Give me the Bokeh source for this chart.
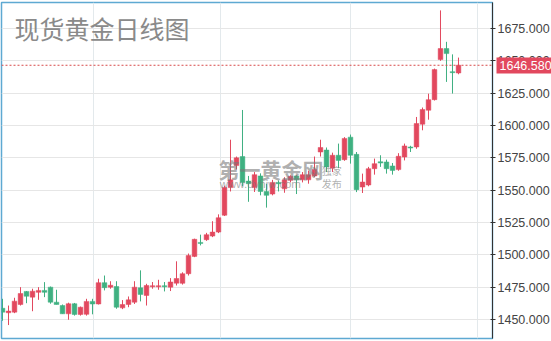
from bokeh.plotting import figure
from bokeh.models import (Range1d, FixedTicker, SingleIntervalTicker, PrintfTickFormatter, Span,
                          Label, ColumnDataSource, LinearAxis)
from bokeh.embed import file_html
from bokeh.resources import INLINE

opens = [1458.7, 1455.2, 1455.7, 1461.6, 1471.7, 1467.3, 1471.0, 1472.5, 1475.0, 1463.4,
         1460.8, 1454.4, 1462.2, 1453.9, 1454.0, 1464.0, 1462.0, 1478.5, 1475.0, 1475.5,
         1459.0, 1461.6, 1463.4, 1474.5, 1468.6, 1475.4, 1475.4, 1476.0, 1475.0, 1478.1,
         1478.0, 1485.4, 1498.8, 1509.6, 1511.7, 1514.5, 1517.6, 1530.6, 1552.0, 1569.0,
         1576.0, 1557.0, 1552.0, 1561.0, 1549.0, 1547.0, 1556.0, 1551.0, 1557.6, 1561.0,
         1558.0, 1558.0, 1561.0, 1579.5, 1581.0, 1567.0, 1577.0, 1573.6, 1591.0, 1577.7,
         1552.4, 1554.0, 1566.6, 1572.0, 1571.8, 1568.7, 1565.9, 1575.6, 1583.4, 1583.4,
         1601.0, 1611.8, 1620.0, 1651.0, 1659.5, 1641.5, 1640.6]
highs = [1466.0, 1460.8, 1466.8, 1475.0, 1472.0, 1473.8, 1475.0, 1478.9, 1475.5, 1473.0,
         1461.6, 1463.0, 1462.8, 1460.0, 1466.0, 1466.0, 1481.5, 1484.0, 1479.6, 1479.6,
         1465.0, 1467.8, 1479.6, 1488.0, 1477.6, 1479.0, 1480.7, 1479.0, 1482.0, 1495.0,
         1486.5, 1501.0, 1512.5, 1515.6, 1517.0, 1526.0, 1531.3, 1553.5, 1589.0, 1576.0,
         1612.0, 1561.0, 1564.0, 1563.0, 1555.0, 1558.0, 1557.5, 1560.0, 1561.5, 1561.5,
         1564.0, 1565.0, 1576.0, 1589.0, 1583.0, 1579.0, 1586.0, 1591.0, 1593.0, 1579.5,
         1562.8, 1568.0, 1574.4, 1577.0, 1573.6, 1571.0, 1578.6, 1586.0, 1584.3, 1606.6,
         1613.9, 1624.6, 1644.0, 1689.0, 1664.7, 1655.0, 1652.5]
lows = [1449.0, 1445.7, 1454.9, 1460.8, 1462.6, 1456.4, 1465.2, 1467.3, 1462.2, 1461.6,
        1454.4, 1449.8, 1453.0, 1453.0, 1453.0, 1454.0, 1461.6, 1472.5, 1473.8, 1458.3,
        1458.0, 1459.5, 1462.0, 1464.0, 1460.8, 1473.8, 1473.0, 1471.7, 1472.0, 1476.3,
        1477.0, 1484.0, 1498.2, 1507.3, 1510.8, 1513.7, 1516.8, 1530.0, 1549.0, 1566.0,
        1553.0, 1541.0, 1548.6, 1546.0, 1536.5, 1546.0, 1549.0, 1548.0, 1556.0, 1547.0,
        1556.0, 1555.0, 1560.0, 1576.0, 1564.0, 1564.0, 1567.0, 1572.7, 1570.5, 1548.5,
        1547.8, 1553.0, 1562.0, 1568.0, 1562.8, 1562.0, 1565.0, 1573.0, 1579.5, 1582.0,
        1596.3, 1604.5, 1619.3, 1650.0, 1633.7, 1624.7, 1639.6]
closes = [1455.7, 1456.5, 1464.2, 1470.1, 1468.0, 1471.9, 1472.5, 1471.0, 1463.4, 1461.6,
          1454.4, 1462.2, 1453.9, 1459.5, 1464.0, 1462.0, 1478.5, 1474.6, 1476.5, 1459.5,
          1461.6, 1465.2, 1475.0, 1469.4, 1476.3, 1476.0, 1476.0, 1475.4, 1479.0, 1481.7,
          1485.4, 1499.5, 1512.0, 1508.8, 1515.6, 1517.6, 1528.7, 1552.0, 1558.0, 1575.0,
          1556.0, 1555.0, 1562.0, 1549.0, 1546.0, 1556.0, 1555.0, 1558.0, 1560.7, 1558.0,
          1562.0, 1562.0, 1566.0, 1583.0, 1568.0, 1577.0, 1573.0, 1590.0, 1577.0, 1550.4,
          1556.3, 1566.6, 1570.5, 1571.0, 1566.6, 1565.3, 1576.2, 1584.2, 1582.6, 1601.5,
          1612.3, 1620.0, 1643.2, 1659.5, 1655.6, 1641.0, 1646.58]
last_price = 1646.58
title_text = "现货黄金日线图"
watermark_main = "第一黄金网"
watermark_url = "www.dyhjw.com"

RED = "#e2485e"
GREEN = "#3fb081"
BORDER = "#5ea9d2"

n = len(opens)
idx = list(range(n))
up = [c >= o for o, c in zip(opens, closes)]
colors = [RED if u else GREEN for u in up]
tops = [max(o, c) for o, c in zip(opens, closes)]
bots = [min(o, c) for o, c in zip(opens, closes)]
bots = [b if t - b > 0.8 else (t + b) / 2 - 0.4 for t, b in zip(tops, bots)]
tops = [t if t - b > 0.8 else b + 0.8 for t, b in zip(tops, bots)]

src = ColumnDataSource(dict(x=idx, top=tops, bottom=bots, high=highs, low=lows, color=colors))

p = figure(frame_width=491, frame_height=336, output_backend="svg", toolbar_location=None,
           y_axis_location="right", min_border=0,
           x_range=Range1d(-0.1667, 81.667), y_range=Range1d(1435.31, 1695.1))
p.min_border_left = 1
p.min_border_right = 0
p.min_border_top = 2
p.min_border_bottom = 3
p.outline_line_color = BORDER
p.outline_line_width = 1.5
p.background_fill_color = "white"
p.border_fill_color = "white"

p.xaxis.visible = False
p.xgrid.ticker = FixedTicker(ticks=[15.2, 36.3, 58.0, 79.2])
p.xgrid.grid_line_color = "#e3e9ec"
p.ygrid.grid_line_color = "#e6e6e6"

yax = p.yaxis[0]
yax.ticker = SingleIntervalTicker(interval=25)
yax.formatter = PrintfTickFormatter(format="%.3f")
yax.major_label_text_font = "Liberation Sans"
yax.major_label_text_font_size = "12.5px"
yax.major_label_text_color = "#444444"
yax.axis_line_color = "#333333"
yax.major_tick_line_color = "#333333"
yax.major_tick_in = 2
yax.major_tick_out = 3
yax.minor_tick_line_color = None
yax.major_label_standoff = 1
p.ygrid.ticker = yax.ticker

# price tag: a second right-hand axis whose single thick tick forms the red box
tag = LinearAxis(ticker=FixedTicker(ticks=[last_price]),
                 formatter=PrintfTickFormatter(format="%.3f"))
tag.axis_line_color = BORDER
tag.axis_line_width = 1.5
tag.minor_tick_line_color = None
tag.major_tick_line_color = RED
tag.major_tick_line_width = 16
tag.major_tick_in = 56
tag.major_tick_out = 0
tag.major_label_standoff = -53
tag.major_label_text_font = "Liberation Sans"
tag.major_label_text_font_size = "12.5px"
tag.major_label_text_color = "white"
p.add_layout(tag, "right")

p.segment(x0="x", x1="x", y0="low", y1="high", color="color", line_width=1, source=src)
p.vbar(x="x", width=0.78, top="top", bottom="bottom", fill_color="color", line_color="color",
       line_width=0.5, source=src)

p.add_layout(Span(location=last_price, dimension="width", line_color="#d84a4a",
                  line_width=1, line_dash="2 2"))

p.add_layout(Label(x=2.0, y=1689.5, text=title_text, text_font="Noto Sans CJK SC",
                   text_font_size="25px", text_color="#8a8a8a", text_baseline="top"))

p.add_layout(Label(x=36.0, y=1566.5, text=watermark_main, text_font="Noto Sans CJK SC",
                   text_font_size="21px", text_font_style="bold", text_color="#7a7a7a",
                   text_alpha=0.6, text_baseline="middle"))
p.add_layout(Label(x=36.2, y=1554.8, text=watermark_url, text_font="Liberation Sans",
                   text_font_size="11.5px", text_color="#7a7a7a", text_alpha=0.6,
                   text_baseline="middle"))
p.add_layout(Label(x=53.2, y=1565.0, text="独家", text_font="Noto Sans CJK SC",
                   text_font_size="10px", text_color="#7a7a7a", text_alpha=0.6,
                   text_baseline="middle"))
p.add_layout(Label(x=53.2, y=1555.0, text="发布", text_font="Noto Sans CJK SC",
                   text_font_size="10px", text_color="#7a7a7a", text_alpha=0.6,
                   text_baseline="middle"))

open("out.html", "w").write(file_html(p, INLINE))
